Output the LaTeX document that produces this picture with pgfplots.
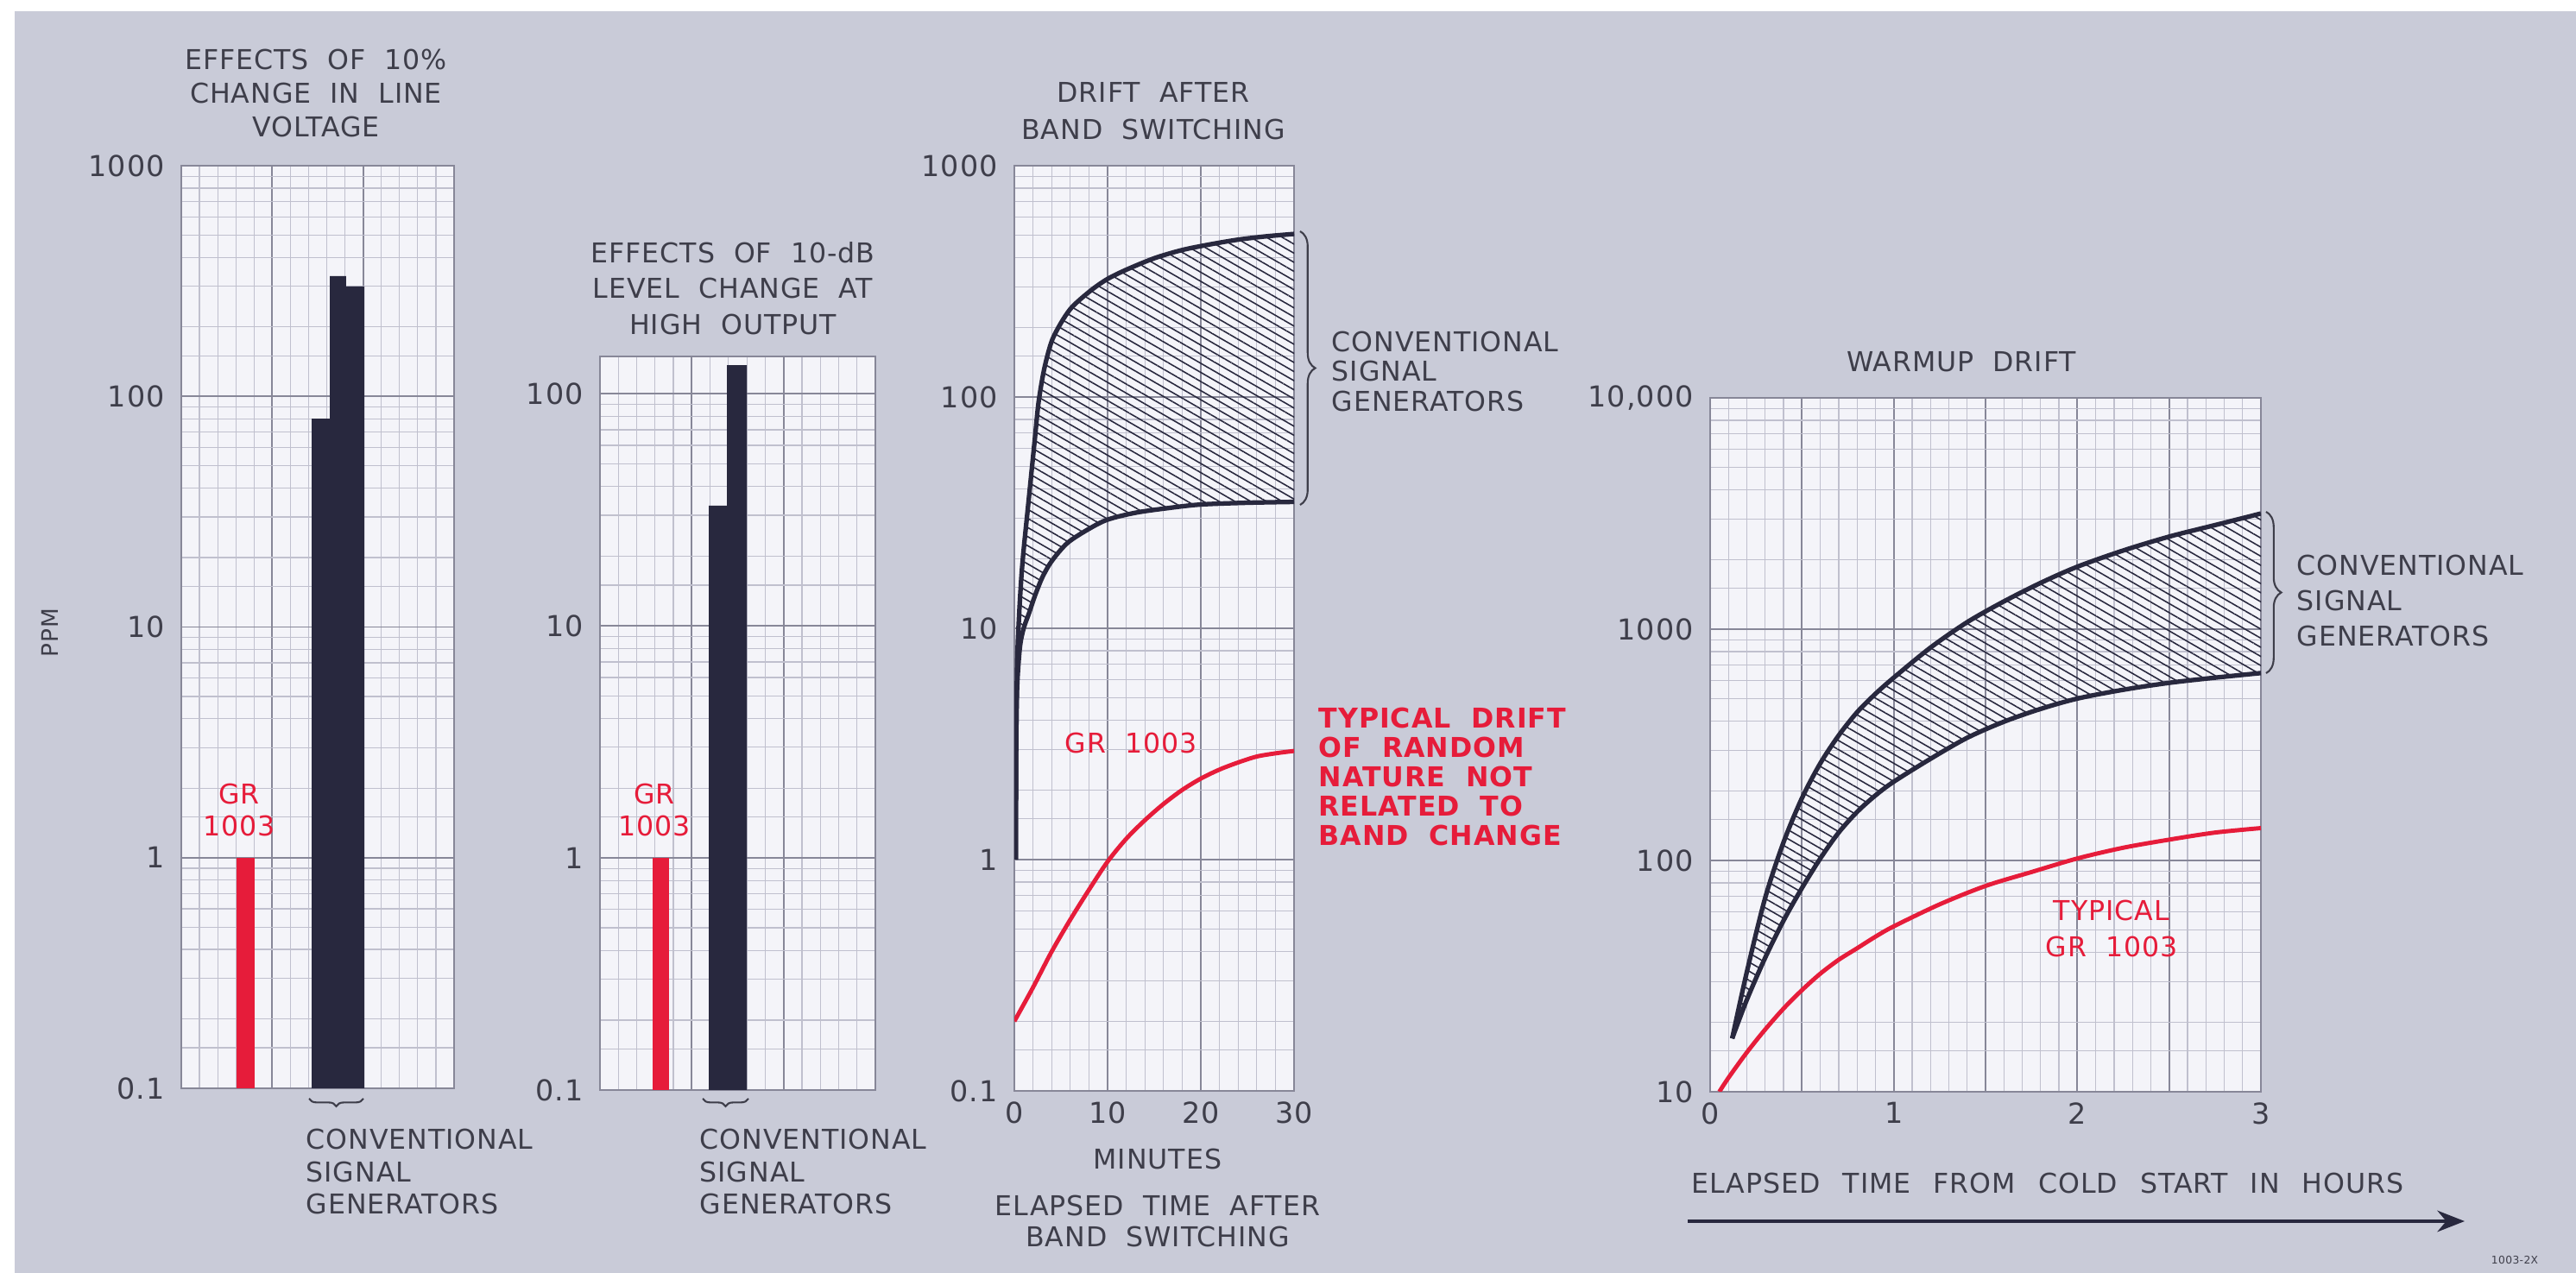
\documentclass[border=0pt]{standalone}
\usepackage{fontspec}
\setmainfont{DejaVu Sans}[LetterSpace=3,WordSpace=2]
\usepackage{pgfplots}
\pgfplotsset{compat=1.18}
\usetikzlibrary{patterns.meta,decorations.pathreplacing,arrows.meta}
\definecolor{bgc}{RGB}{201,203,216}
\definecolor{paper}{RGB}{244,244,249}
\definecolor{majgrid}{RGB}{135,135,152}
\definecolor{mingrid}{RGB}{192,192,206}
\definecolor{dark}{RGB}{40,40,62}
\definecolor{myred}{RGB}{230,28,58}
\definecolor{txt}{RGB}{62,62,74}
\newcommand\lbl{\fontsize{9}{10.5}\selectfont}
\newcommand\tlbl{\fontsize{9.5}{11}\selectfont}
\pgfplotsset{
  mypanelstyle/.style={
    scale only axis, anchor=south west, log origin y=infty,
    axis background/.style={fill=paper},
    axis line style={draw=majgrid, line width=0.5pt},
    grid=both,
    major grid style={draw=majgrid, line width=0.55pt},
    minor grid style={draw=mingrid, line width=0.35pt},
    major tick length=0pt, minor tick length=0pt,
    tick label style={font=\tlbl, text=txt},
    yticklabel style={xshift=-2pt},
  },
  mydecfour/.style={minor ytick={0.15,0.2,0.3,0.4,0.5,0.6,0.7,0.8,0.9,1.5,2,3,4,5,6,7,8,9,15,20,30,40,50,60,70,80,90,150,200,300,400,500,600,700,800,900}},
  mydecthree/.style={minor ytick={15,20,30,40,50,60,70,80,90,150,200,300,400,500,600,700,800,900,1500,2000,3000,4000,5000,6000,7000,8000,9000}},
  mycurve/.style={draw=dark, line width=1.5pt, smooth, tension=0.5},
  myredcurve/.style={draw=myred, line width=1.4pt, smooth, tension=0.5},
  myhatch/.style={draw=none, pattern={Lines[angle=-30,distance=2.6pt,line width=0.45pt]}, pattern color=dark},
}
\begin{document}
\begin{tikzpicture}[x=1cm,y=1cm]
\fill[white] (0,0) rectangle (29.84,14.75);
\fill[bgc] (0.17,0) rectangle (29.84,14.62);

% ---------- Panel 1 ----------
\begin{semilogyaxis}[mypanelstyle, mydecfour, at={(2.10cm,2.14cm)}, width=3.16cm, height=10.69cm,
  xmin=0, xmax=3, ymin=0.1, ymax=1000,
  xtick={0,1,2,3}, xticklabels={,,,}, minor xtick={0,0.2,...,3},
  ytick={0.1,1,10,100,1000}, yticklabels={0.1,1,10,100,1000}]
\addplot[ybar interval, fill=myred, draw=none] coordinates {(0.608,1) (0.807,1)};
\addplot[ybar interval, fill=dark, draw=none] coordinates {(1.434,80) (1.633,332) (1.813,300) (2.013,300)};
\end{semilogyaxis}

% ---------- Panel 2 ----------
\begin{semilogyaxis}[mypanelstyle, mydecfour, at={(6.95cm,2.12cm)}, width=3.19cm, height=8.50cm,
  xmin=0, xmax=3, ymin=0.1, ymax=145,
  xtick={0,1,2,3}, xticklabels={,,,}, minor xtick={0,0.2,...,3},
  ytick={0.1,1,10,100}, yticklabels={0.1,1,10,100}]
\addplot[ybar interval, fill=myred, draw=none] coordinates {(0.574,1) (0.752,1)};
\addplot[ybar interval, fill=dark, draw=none] coordinates {(1.185,33) (1.383,133) (1.599,133)};
\end{semilogyaxis}

% ---------- Panel 3 ----------
\begin{semilogyaxis}[mypanelstyle, mydecfour, at={(11.75cm,2.11cm)}, width=3.24cm, height=10.72cm,
  xmin=0, xmax=30, ymin=0.1, ymax=1000,
  xtick={0,10,20,30}, xticklabels={0,10,20,30}, minor xtick={0,2,...,30},
  ytick={0.1,1,10,100,1000}, yticklabels={0.1,1,10,100,1000}]
\addplot[myhatch] coordinates {
 (0.2,3.2) (0.3,7.1) (0.5,11.2) (0.75,16.6) (1.0,21.9) (1.4,31.6) (1.8,45.7) (2.2,66) (2.6,95)
 (3.2,132) (4,174) (5,209) (6,240) (7,263) (8.5,295) (10,324) (12,355) (15,398) (18,432) (21,457)
 (24,479) (27,495) (30,507)
 (30,35.2) (25,34.9) (20,34.3) (16.5,33.1) (13,31.6) (10,29.5) (8,26.9) (5.7,23.4) (4,19.5)
 (3,16.6) (2.2,13.8) (1.6,11.7) (1.0,10) (0.6,8.3) (0.3,5.6) (0.2,3.2)};
\addplot[mycurve] coordinates {
 (0.15,1) (0.2,3.2) (0.3,7.1) (0.5,11.2) (0.75,16.6) (1.0,21.9) (1.4,31.6) (1.8,45.7) (2.2,66) (2.6,95)
 (3.2,132) (4,174) (5,209) (6,240) (7,263) (8.5,295) (10,324) (12,355) (15,398) (18,432) (21,457)
 (24,479) (27,495) (30,507)};
\addplot[mycurve] coordinates {
 (0.15,1) (0.2,3.2) (0.3,5.6) (0.6,8.3) (1.0,10) (1.6,11.7) (2.2,13.8) (3,16.6) (4,19.5)
 (5.7,23.4) (8,26.9) (10,29.5) (13,31.6) (16.5,33.1) (20,34.3) (25,34.9) (30,35.2)};
\addplot[myredcurve] coordinates {
 (0,0.2) (2,0.28) (4,0.40) (6,0.55) (8,0.74) (10,0.98) (12,1.23) (14,1.48) (16,1.74) (18,2.0)
 (20,2.24) (22,2.45) (24,2.63) (26,2.79) (28,2.88) (30,2.95)};
\end{semilogyaxis}

% ---------- Panel 4 ----------
\begin{semilogyaxis}[mypanelstyle, mydecthree, at={(19.81cm,2.10cm)}, width=6.38cm, height=8.04cm,
  xmin=0, xmax=3, ymin=10, ymax=10000,
  xtick={0,0.5,...,3}, xticklabels={0,,1,,2,,3}, minor xtick={0,0.1,...,3},
  ytick={10,100,1000,10000}, yticklabels={10,100,1000,{10,000}}]
\addplot[myhatch] coordinates {
 (0.12,17) (0.2,33) (0.3,69) (0.4,120) (0.5,186) (0.6,263) (0.7,347) (0.8,437) (0.9,525) (1.0,617)
 (1.2,832) (1.4,1072) (1.6,1318) (1.8,1585) (2.0,1862) (2.25,2188) (2.5,2512) (2.75,2818) (3.0,3162)
 (3.0,646) (2.75,617) (2.5,586) (2.25,547) (2.0,501) (1.8,452) (1.6,398) (1.4,339) (1.2,275)
 (1.0,219) (0.9,191) (0.8,162) (0.7,132) (0.6,102) (0.5,76) (0.4,55) (0.3,38) (0.2,25) (0.12,17)};
\addplot[mycurve] coordinates {
 (0.12,17) (0.2,33) (0.3,69) (0.4,120) (0.5,186) (0.6,263) (0.7,347) (0.8,437) (0.9,525) (1.0,617)
 (1.2,832) (1.4,1072) (1.6,1318) (1.8,1585) (2.0,1862) (2.25,2188) (2.5,2512) (2.75,2818) (3.0,3162)};
\addplot[mycurve] coordinates {
 (0.12,17) (0.2,25) (0.3,38) (0.4,55) (0.5,76) (0.6,102) (0.7,132) (0.8,162) (0.9,191) (1.0,219)
 (1.2,275) (1.4,339) (1.6,398) (1.8,452) (2.0,501) (2.25,547) (2.5,586) (2.75,617) (3.0,646)};
\addplot[myredcurve] coordinates {
 (0.05,10) (0.1,11.5) (0.2,14.8) (0.3,18.6) (0.4,22.9) (0.5,27.5) (0.6,32.4) (0.7,37.2) (0.8,41.7)
 (0.9,46.8) (1.0,51.9) (1.25,64.6) (1.5,77.6) (1.75,89.1) (2.0,102) (2.25,113.5) (2.5,123) (2.75,132) (3.0,138)};
\end{semilogyaxis}

% ---------- annotations ----------
\newcommand\ws{\hspace{1.2pt}}
\begin{scope}[every node/.style={text=txt, font=\lbl, inner sep=0pt}]
\node[align=center, font=\fontsize{9}{11}\selectfont] at (3.66,13.67) {EFFECTS OF 10\%\\CHANGE IN LINE\\VOLTAGE};
\node[align=center, font=\fontsize{9}{11.8}\selectfont] at (8.49,11.41) {EFFECTS OF 10-dB\\LEVEL CHANGE AT\\HIGH OUTPUT};
\node[align=center, font=\fontsize{9}{12.2}\selectfont] at (13.36,13.465) {DRIFT AFTER\\BAND SWITCHING};
\node at (22.72,10.56) {WARMUP DRIFT};

\node[anchor=west, align=left, font=\fontsize{9}{10.6}\selectfont] at (3.54,1.175) {CONVENTIONAL\\SIGNAL\\GENERATORS};
\node[anchor=west, align=left, font=\fontsize{9}{10.6}\selectfont] at (8.10,1.175) {CONVENTIONAL\\SIGNAL\\GENERATORS};
\node[anchor=west, align=left, font=\fontsize{9}{9.7}\selectfont] at (15.42,10.445) {CONVENTIONAL\\SIGNAL\\GENERATORS};
\node[anchor=west, align=left, font=\fontsize{9}{11.6}\selectfont] at (26.60,7.79) {CONVENTIONAL\\SIGNAL\\GENERATORS};

\node[align=center, text=myred, font=\fontsize{9}{10.5}\selectfont] at (2.77,5.365) {GR\\1003};
\node[align=center, text=myred, font=\fontsize{9}{10.5}\selectfont] at (7.58,5.365) {GR\\1003};
\node[text=myred] at (13.10,6.14) {GR 1003};
\node[anchor=west, align=left, text=myred, font=\fontsize{9}{9.7}\selectfont\bfseries] at (15.27,5.75) {TYPICAL DRIFT\\OF RANDOM\\NATURE NOT\\RELATED TO\\BAND CHANGE};
\node[align=center, text=myred, font=\fontsize{9}{12}\selectfont] at (24.46,3.99) {TYPICAL\\GR 1003};

\node at (13.41,1.32) {MINUTES};
\node[align=center, font=\fontsize{9}{10.5}\selectfont] at (13.41,0.60) {ELAPSED TIME AFTER\\BAND SWITCHING};
\node at (23.72,1.04) {ELAPSED\ws{} TIME\ws{} FROM\ws{} COLD\ws{} START\ws{} IN\ws{} HOURS};
\node[rotate=90, font=\fontsize{7.5}{8}\selectfont] at (0.58,7.42) {PPM};
\node[font=\fontsize{3.5}{4}\selectfont] at (29.13,0.15) {1003-2X};
\end{scope}

\draw[txt, line width=0.6pt, decorate, decoration={brace, mirror, amplitude=2.5pt}] (3.58,2.02) -- (4.21,2.02);
\draw[txt, line width=0.6pt, decorate, decoration={brace, mirror, amplitude=2.5pt}] (8.14,2.02) -- (8.67,2.02);
\draw[txt, line width=0.6pt, decorate, decoration={brace, amplitude=5pt}] (15.06,12.07) -- (15.06,8.90);
\draw[txt, line width=0.6pt, decorate, decoration={brace, amplitude=5pt}] (26.25,8.82) -- (26.25,6.95);
\draw[dark, line width=1.1pt, -{Stealth[length=9pt,width=7pt]}] (19.55,0.60) -- (28.55,0.60);

\pgfresetboundingbox
\path (0,0) rectangle (29.84,14.75);
\end{tikzpicture}
\end{document}
